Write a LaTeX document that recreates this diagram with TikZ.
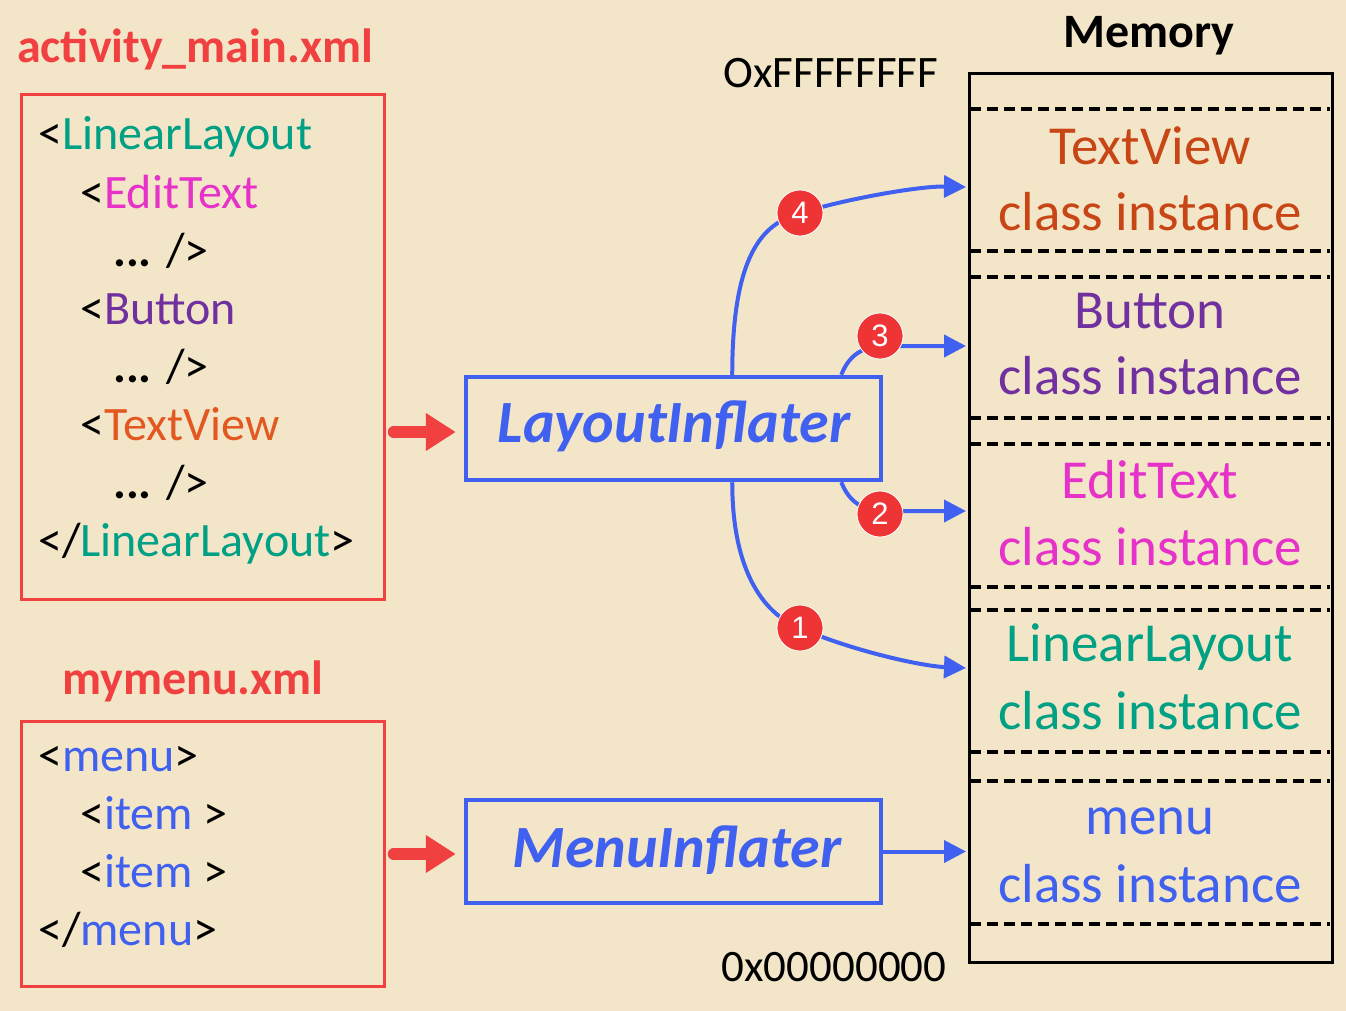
\documentclass[tikz,border=0pt]{standalone}
\usepackage{fontspec}
\setmainfont{Carlito}
\newfontfamily\numfont{Liberation Sans}
\usetikzlibrary{arrows.meta,calc}
\definecolor{bg}{RGB}{243,230,200}
\definecolor{xred}{RGB}{240,64,64}
\definecolor{xblue}{RGB}{64,96,240}
\definecolor{xteal}{RGB}{0,160,132}
\definecolor{xmag}{RGB}{230,50,200}
\definecolor{xpurp}{RGB}{112,48,160}
\definecolor{xorange}{RGB}{226,88,32}
\definecolor{xtv}{RGB}{200,70,22}
\definecolor{xcirc}{RGB}{238,52,52}
\newcommand\ct[2]{\textcolor{#1}{#2}}
\tikzset{
  hdr/.style={anchor=base west, inner sep=0pt, font=\fontsize{48}{48}\selectfont\bfseries},
  code/.style={anchor=base west, inner sep=0pt, font=\fontsize{48}{48}\selectfont},
  memtxt/.style={anchor=base, inner sep=0pt, font=\fontsize{55}{55}\selectfont},
  addr/.style={anchor=base, inner sep=0pt, font=\fontsize{45}{45}\selectfont},
  inftxt/.style={anchor=base, inner sep=0pt, font=\fontsize{60}{60}\selectfont\bfseries\itshape},
  redbox/.style={draw=xred, line width=3pt, inner sep=0pt},
  bluebox/.style={draw=xblue, line width=4.5pt, inner sep=0pt, minimum width=415pt, minimum height=103pt},
  bluearrow/.style={draw=xblue, line width=4pt, -{Triangle[length=22pt,width=22pt]}},
  redarrow/.style={draw=xred, line width=12pt, line cap=round, -{Triangle[length=30pt,width=36pt]}},
  numcirc/.style={circle, fill=xcirc, draw=white, line width=0.8pt, minimum size=46pt, inner sep=0pt, text=white, font=\numfont\fontsize{31}{31}\selectfont},
  dashline/.style={draw=black, line width=3.2pt, dash pattern=on 11pt off 6pt},
}
\begin{document}
\begin{tikzpicture}[x=1pt,y=-1pt]
\useasboundingbox (0,0) rectangle (1346,1011);
\fill[bg] (0,0) rectangle (1346,1011);

% ---------- left: activity_main.xml ----------
\node[hdr] (h1) at (17,63) {\ct{xred}{activity\_main.xml}};
\node[redbox, anchor=north west, minimum width=363pt, minimum height=505pt] (box1) at (20,93) {};
\node[code] (c1) at (38,150) {\ct{black}{<}\ct{xteal}{LinearLayout}};
\node[code] (c2) at (80,208) {\ct{black}{<}\ct{xmag}{EditText}};
\node[code] (c3) at (113,266) {\ct{black}{\textbf{...} />}};
\node[code] (c4) at (80,324) {\ct{black}{<}\ct{xpurp}{Button}};
\node[code] (c5) at (113,382) {\ct{black}{\textbf{...} />}};
\node[code] (c6) at (80,440) {\ct{black}{<}\ct{xorange}{TextView}};
\node[code] (c7) at (113,498) {\ct{black}{\textbf{...} />}};
\node[code] (c8) at (38,556) {\ct{black}{</}\ct{xteal}{LinearLayout}\ct{black}{>}};

% ---------- left: mymenu.xml ----------
\node[hdr] (h2) at (62,694) {\ct{xred}{mymenu.xml}};
\node[redbox, anchor=north west, minimum width=363pt, minimum height=265pt] (box2) at (20,720) {};
\node[code] (m1) at (38,771) {\ct{black}{<}\ct{xblue}{menu}\ct{black}{>}};
\node[code] (m2) at (80,829) {\ct{black}{<}\ct{xblue}{item}\ct{black}{\ >}};
\node[code] (m3) at (80,887) {\ct{black}{<}\ct{xblue}{item}\ct{black}{\ >}};
\node[code] (m4) at (38,945) {\ct{black}{</}\ct{xblue}{menu}\ct{black}{>}};

% ---------- inflaters ----------
\node[bluebox] (li) at (673.5,428.5) {};
\node[inftxt] (lit) at (674,442) {\ct{xblue}{LayoutInflater}};
\node[bluebox] (mi) at (673.5,851.5) {};
\node[inftxt] (mit) at (677,867) {\ct{xblue}{MenuInflater}};

\draw[redarrow] ([xshift=-70pt,yshift=-3.5pt]li.west) -- ([xshift=-8pt,yshift=-3.5pt]li.west);
\draw[redarrow] ([xshift=-70pt,yshift=-2.5pt]mi.west) -- ([xshift=-8pt,yshift=-2.5pt]mi.west);

% ---------- memory ----------
\node[hdr, anchor=base] (memh) at (1149,48) {\ct{black}{Memory}};
\node[addr] (top) at (831,88) {\ct{black}{OxFFFFFFFF}};
\node[addr] (bot) at (834,981) {\ct{black}{0x00000000}};
\node[draw=black, line width=3pt, inner sep=0pt, anchor=north west, minimum width=363pt, minimum height=889pt] (mem) at (968,72) {};
\foreach \yy in {109,251,277,418,444,587,610,752,781,924}
  \draw[dashline] (970,\yy) -- (1330,\yy);

\node[memtxt] (t1) at (1150,165) {\ct{xtv}{TextView}};
\node[memtxt] (t2) at (1150,230) {\ct{xtv}{class instance}};
\node[memtxt] (b1) at (1150,328) {\ct{xpurp}{Button}};
\node[memtxt] (b2) at (1150,394) {\ct{xpurp}{class instance}};
\node[memtxt] (e1) at (1150,498) {\ct{xmag}{EditText}};
\node[memtxt] (e2) at (1150,565) {\ct{xmag}{class instance}};
\node[memtxt] (l1) at (1150,661) {\ct{xteal}{LinearLayout}};
\node[memtxt] (l2) at (1150,729) {\ct{xteal}{class instance}};
\node[memtxt] (n1) at (1150,834) {\ct{xblue}{menu}};
\node[memtxt] (n2) at (1150,902) {\ct{xblue}{class instance}};

% ---------- connectors ----------
\coordinate (p4) at (800,213);
\coordinate (p3) at (880,336);
\coordinate (p2) at (880,514);
\coordinate (p1) at (800,628);
\coordinate (e4) at (966,187);
\coordinate (e3) at (966,346);
\coordinate (e2) at (966,511);
\coordinate (e1) at (966,668);
\coordinate (e5) at (966,851.5);

\draw[bluearrow] ($(li.north west)!0.64!(li.north east)$) .. controls +(0,-130) and +(-32,10) .. (p4) .. controls +(50,-15) and +(-46,-1) .. (e4);
\draw[bluearrow] ($(li.north west)!0.90!(li.north east)$) .. controls +(8,-20) and +(-22,0) .. (885,346) -- (e3);
\draw[bluearrow] ($(li.south west)!0.90!(li.south east)$) .. controls +(8,20) and +(-22,0) .. (885,511) -- (e2);
\draw[bluearrow] ($(li.south west)!0.64!(li.south east)$) .. controls +(0,95) and +(-32,-12) .. (p1) .. controls +(50,22) and +(-46,-2) .. (e1);
\draw[bluearrow] (mi.east) -- (e5);

\node[numcirc] (n4c) at (p4) {4};
\node[numcirc] (n3c) at (p3) {3};
\node[numcirc] (n2c) at (p2) {2};
\node[numcirc] (n1c) at (p1) {1};
\end{tikzpicture}
\end{document}
